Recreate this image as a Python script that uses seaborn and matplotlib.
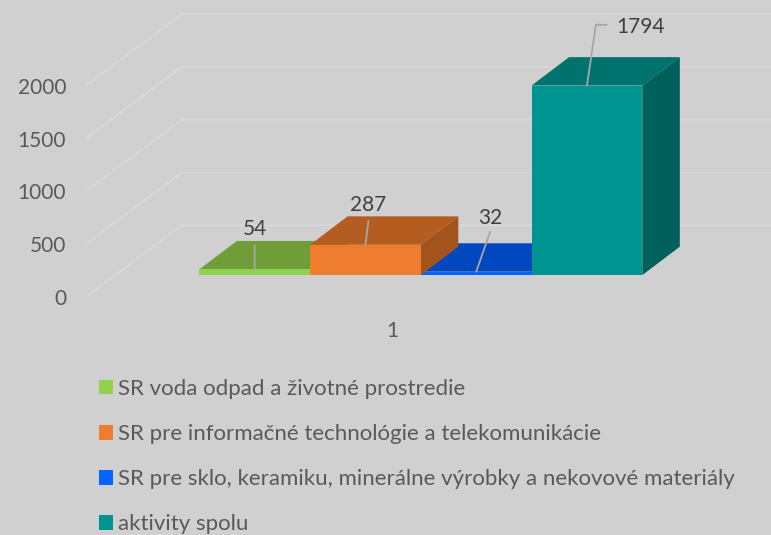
import pandas as pd
import matplotlib
matplotlib.use('Agg')
import matplotlib.pyplot as plt
from matplotlib.patches import Patch, Polygon
import seaborn as sns

# Data
series = ['SR voda odpad a životné prostredie',
          'SR pre informačné technológie a telekomunikácie',
          'SR pre sklo, keramiku, minerálne výrobky a nekovové materiály',
          'aktivity spolu']
values = [54, 287, 32, 1794]
grid_values = [0, 500, 1000, 1500, 2000]
x_labels = ['1']

# Colours per series: front, top, side
front_colors = ['#92D050', '#EE7D30', '#0563FF', '#009490']
top_colors = ['#6F9E38', '#B55D20', '#0047C0', '#00736E']
side_colors = ['#5F8A30', '#A3541D', '#003A9E', '#00605C']
bg = '#D0D0D0'
grid_color = '#D9D9D9'
leader = '#A6A6A6'

# Pixel layout of the picture
W, H = 771, 535
ax_left, ax_bottom = 87, 297
step_px = 110.75       # width of one bar
unit_px = 0.106        # pixels per unit of value
first_center = 254.7
floor_px = 276
depth_x = 37.5 / step_px
depth_y = 28.5 / unit_px

sns.set_theme(style='white', rc={'axes.facecolor': bg, 'figure.facecolor': bg})
plt.rcParams['font.family'] = ['Lato', 'DejaVu Sans']

fig = plt.figure(figsize=(W / 100, H / 100), dpi=100)
ax = fig.add_axes([ax_left / W, 1 - ax_bottom / H, (W - ax_left) / W, ax_bottom / H])

df = pd.DataFrame({'serie': series, 'hodnota': values})
sns.barplot(data=df, x='serie', y='hodnota', hue='serie', order=series, hue_order=series,
            palette=front_colors, saturation=1, width=1, gap=0, legend=False, ax=ax)

ax.set_xlim((ax_left - first_center) / step_px, (W - first_center) / step_px)
ymin = -(ax_bottom - floor_px) / unit_px
ax.set_ylim(ymin, floor_px / unit_px)
ax.set_xlabel('')
ax.set_ylabel('')
sns.despine(ax=ax, left=True, bottom=True)

# Left wall and back wall grid lines
corner_x = (182 - first_center) / step_px
x0, x1 = ax.get_xlim()
back_shift = (floor_px - 226) / unit_px
for v in grid_values:
    ax.plot([x0, corner_x, x1], [v + ymin, v + back_shift, v + back_shift],
            color=grid_color, lw=1.2, zorder=0.5, solid_joinstyle='miter')

# Axis labels
ax.set_yticks([v + ymin - 1 / unit_px for v in grid_values], [str(v) for v in grid_values])
ax.set_xticks([(392 - first_center) / step_px], x_labels)
ax.tick_params(axis='y', length=0, pad=15, labelsize=15, labelcolor='#595959')
ax.tick_params(axis='x', length=0, pad=17, labelsize=15, labelcolor='#595959')

# Fake 3D faces, built from the bars; low bars first so taller ones cover them
bars = [c[0] for c in ax.containers]
rank = sorted(range(len(values)), key=lambda i: values[i])
for z, i in enumerate(rank):
    b = bars[i]
    l, r, h = b.get_x(), b.get_x() + b.get_width(), b.get_height()
    base = 2 + z * 0.1
    ax.add_patch(Polygon([(l, h), (l + depth_x, h + depth_y), (r + depth_x, h + depth_y), (r, h)],
                         facecolor=top_colors[i], edgecolor='none', zorder=base))
    ax.add_patch(Polygon([(r, 0), (r + depth_x, depth_y), (r + depth_x, h + depth_y), (r, h)],
                         facecolor=side_colors[i], edgecolor='none', zorder=base + 0.01))
    b.set_zorder(base + 0.02)
    b.set_edgecolor('none')

# Data labels with leader lines, offsets in pixels from the top of the bar
line = dict(arrowstyle='-', color=leader, lw=1.3, shrinkA=0, shrinkB=0)
line_ends = [(0, 24), (3, 24), (14, 40), (9, 61)]
text_pos = [(0, 40), (3, 40), (14, 54), (29, 59)]
for i, v in enumerate(values):
    ax.annotate('', xy=(i, v), xytext=line_ends[i], textcoords='offset pixels',
                arrowprops=line, zorder=5)
    ax.annotate(str(v), xy=(i, v), xytext=text_pos[i], textcoords='offset pixels',
                ha='left' if v == max(values) else 'center', va='center',
                fontsize=15, color='#404040', zorder=6)

# Elbow on the leader of the tall bar
tall = values.index(max(values))
elbow = (tall + line_ends[tall][0] / step_px, values[tall] + line_ends[tall][1] / unit_px)
ax.annotate('', xy=elbow, xytext=(11, 0), textcoords='offset pixels', arrowprops=line,
            zorder=5, annotation_clip=False)

# Legend
handles = [Patch(facecolor=c, edgecolor='none', label=s) for c, s in zip(front_colors, series)]
fig.legend(handles=handles, loc='upper left', bbox_to_anchor=(99 / W, 1 - 379 / H),
           bbox_transform=fig.transFigure, frameon=False, fontsize=16, labelcolor='#595959',
           handlelength=0.63, handleheight=0.63, handletextpad=0.22, labelspacing=1.13,
           borderpad=0, borderaxespad=0)

fig.savefig('out.png', dpi=100, facecolor=bg)
